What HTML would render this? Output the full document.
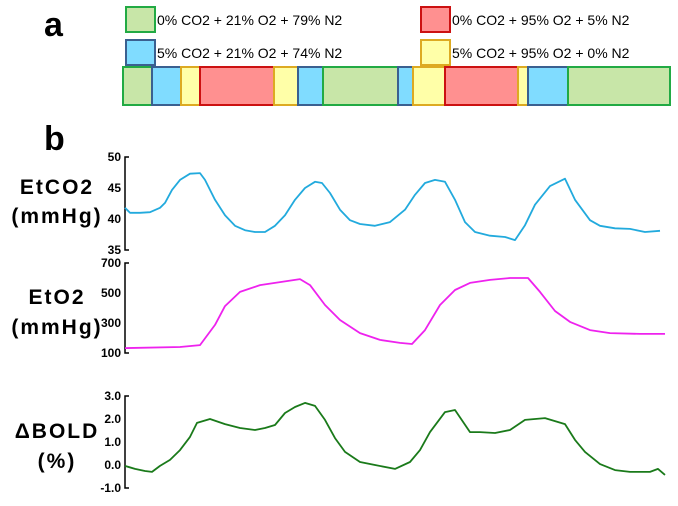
<!DOCTYPE html>
<html><head><meta charset="utf-8"><style>
body{margin:0;background:#fff;width:678px;height:501px;overflow:hidden;font-family:"Liberation Sans",sans-serif}
</style></head><body>
<svg id="c" width="678" height="501" xmlns="http://www.w3.org/2000/svg" font-family="Liberation Sans, sans-serif">
<text x="44" y="36" font-size="34" font-weight="bold">a</text>
<text x="44" y="150" font-size="34" font-weight="bold">b</text>
<g font-size="14">
<rect x="126" y="7" width="29" height="25" fill="#c8e6a8" stroke="#22aa44" stroke-width="2"/>
<text x="157" y="25">0% CO2 + 21% O2 + 79% N2</text>
<rect x="126" y="40" width="29" height="25" fill="#80dcff" stroke="#3a6090" stroke-width="2"/>
<text x="157" y="58">5% CO2 + 21% O2 + 74% N2</text>
<rect x="421" y="7" width="29" height="25" fill="#ff9090" stroke="#cc1111" stroke-width="2"/>
<text x="452" y="25">0% CO2 + 95% O2 + 5% N2</text>
<rect x="421" y="40" width="29" height="25" fill="#ffffa8" stroke="#ddaa22" stroke-width="2"/>
<text x="452" y="58">5% CO2 + 95% O2 + 0% N2</text>
</g>
<g id="bar"></g>
<g id="plots"></g>
<g font-size="21" font-weight="bold" text-anchor="middle" letter-spacing="2">
<text x="57" y="194">EtCO2</text>
<text x="57" y="223">(mmHg)</text>
<text x="57" y="304">EtO2</text>
<text x="57" y="334">(mmHg)</text>
<text x="57" y="438">ΔBOLD</text>
<text x="57" y="468">(%)</text>
</g>
</svg>
<script>
const NS="http://www.w3.org/2000/svg";
const svg=document.getElementById('c');
const blockTypes=["air","co2","carb","o2","carb","co2","air","co2","carb","o2","carb","co2","air"];
const blockEnds=[29,58,77,151,175,200,275,290,322,395,405,445,547];
const fills={air:["#c8e6a8","#22aa44"],co2:["#80dcff","#3a6090"],o2:["#ff9090","#cc1111"],carb:["#ffffa8","#ddaa22"]};
const barG=document.getElementById('bar');
let s=0;
blockTypes.forEach((t,i)=>{
  const r=document.createElementNS(NS,'rect');
  r.setAttribute('x',123+s);r.setAttribute('y',67);r.setAttribute('width',blockEnds[i]-s);r.setAttribute('height',38);
  r.setAttribute('fill',fills[t][0]);r.setAttribute('stroke',fills[t][1]);r.setAttribute('stroke-width',2);
  
  
  barG.appendChild(r);s=blockEnds[i];
});
const co2T=[0,5,15,25,35,40,47,55,65,75,80,90,100,110,120,130,140,150,160,170,180,190,197,205,215,225,235,250,265,280,290,300,310,320,330,340,350,365,380,390,400,410,425,440,450,465,475,490,505,520,535];
const co2V=[41.8,41.0,41.0,41.1,41.8,42.6,44.7,46.3,47.3,47.4,46.3,43.1,40.6,38.9,38.2,37.9,37.9,38.9,40.6,43.1,45.0,46.0,45.8,44.2,41.5,39.8,39.2,38.9,39.5,41.5,43.9,45.8,46.3,46.0,43.1,39.5,37.9,37.3,37.1,36.6,39.0,42.3,45.3,46.5,43.1,39.8,38.9,38.5,38.4,37.9,38.1];
const o2T=[0,55,75,90,100,115,135,155,175,185,200,215,235,255,275,287,300,315,330,345,365,385,403,415,430,445,465,485,515,540];
const o2V=[133,140,153,287,413,507,553,573,593,553,420,320,233,187,167,160,253,420,520,567,587,600,600,507,380,307,253,233,227,227];
const boldT=[0,10,20,27,35,45,55,65,72,85,100,115,130,140,150,160,170,180,190,200,210,220,235,250,270,285,295,305,320,330,345,355,370,385,400,420,440,450,460,475,490,505,525,533,540];
const boldV=[-0.04,-0.17,-0.26,-0.30,-0.04,0.22,0.65,1.22,1.83,2.0,1.78,1.61,1.52,1.61,1.74,2.26,2.52,2.70,2.57,1.96,1.17,0.57,0.13,0,-0.17,0.13,0.65,1.43,2.30,2.39,1.43,1.43,1.39,1.52,1.96,2.04,1.78,1.09,0.57,0.04,-0.22,-0.30,-0.30,-0.17,-0.43];
const co2Ticks=[50,45,40,35];
const o2Ticks=[700,500,300,100];
const boldTicks=["3.0","2.0","1.0","0.0","-1.0"];
const x0=125,xw=540;
const xs=t=>x0+t/540*xw;
function panel(name,T,V,vmin,vmax,ytop,ybot,color,ticks){
  const g=document.createElementNS(NS,'g');
  
  
  svg.appendChild(g);
  const ys=v=>ybot-(v-vmin)/(vmax-vmin)*(ybot-ytop);
  const ax=document.createElementNS(NS,'path');
  ax.setAttribute('d',`M${x0+4},${ytop}H${x0}V${ybot}H${x0+4}`);
  ax.setAttribute('fill','none');ax.setAttribute('stroke','#000');ax.setAttribute('stroke-width','1.5');
  
  
  g.appendChild(ax);
  ticks.forEach(tk=>{
    const t=document.createElementNS(NS,'text');
    t.setAttribute('x',x0-4);t.setAttribute('y',ys(parseFloat(tk))+4);
    t.setAttribute('text-anchor','end');t.setAttribute('font-size','12');t.setAttribute('font-weight','bold');
    t.textContent=tk;
    
    
    g.appendChild(t);
  });
  const p=document.createElementNS(NS,'path');
  p.setAttribute('d',T.map((t,i)=>(i?'L':'M')+xs(t).toFixed(1)+','+ys(V[i]).toFixed(1)).join(''));
  p.setAttribute('fill','none');p.setAttribute('stroke',color);p.setAttribute('stroke-width','1.8');p.setAttribute('stroke-linejoin','round');
  
  
  g.appendChild(p);
}
panel('etco2',co2T,co2V,35,50,157,250,'#22aadd',co2Ticks);
panel('eto2',o2T,o2V,100,700,263,353,'#ee22ee',o2Ticks);
panel('bold',boldT,boldV,-1,3,396,488,'#1a7a1a',boldTicks);
</script>
</body></html>
